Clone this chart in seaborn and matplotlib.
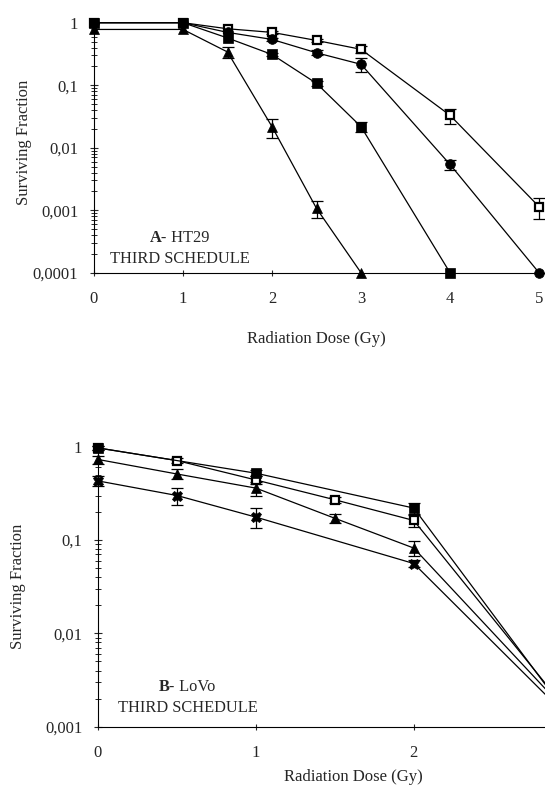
import numpy as np
import pandas as pd
import matplotlib
matplotlib.use("Agg")
import matplotlib.pyplot as plt
import matplotlib.ticker as ticker
import seaborn as sns

# ---- Panel A: HT29, third schedule ----
dose_a = [0, 1, 1.5, 2, 2.5, 3, 4, 5]
ht29_open_sq = [1.0, 1.0, 0.80, 0.70, 0.52, 0.375, 0.033, 0.00114]
ht29_open_sq_err = [0, 0, 0, 0.03, 0.03, 0.05, 0.009, 0.00043]
ht29_circle = [1.0, 1.0, 0.70, 0.54, 0.33, 0.216, 0.0054, 0.0001]
ht29_circle_err = [0, 0, 0, 0.03, 0.03, 0.055, 0.001, 0]
dose_a_sq = [0, 1, 1.5, 2, 2.5, 3, 4]
ht29_sq = [1.0, 1.0, 0.57, 0.31, 0.107, 0.0217, 0.0001]
ht29_sq_err = [0, 0, 0, 0.02, 0.01, 0.004, 0]
dose_a_tri = [0, 1, 1.5, 2, 2.5, 3]
ht29_tri = [0.78, 0.78, 0.34, 0.0217, 0.00107, 0.0001]
ht29_tri_err = [0, 0, 0.065, 0.0072, 0.00032, 0]

# ---- Panel B: LoVo, third schedule ----
dose_b_sq = [0, 1, 2, 3]
lovo_sq = [0.97, 0.52, 0.22, 0.00118]
lovo_sq_err = [0.05, 0.04, 0.03, 0]
dose_b = [0, 0.5, 1, 1.5, 2, 3]
lovo_open_sq = [0.97, 0.71, 0.44, 0.27, 0.162, 0.0013]
lovo_open_sq_err = [0.05, 0.04, 0.04, 0.02, 0.025, 0]
lovo_tri = [0.73, 0.51, 0.36, 0.171, 0.082, 0.00127]
lovo_tri_err = [0.07, 0.06, 0.06, 0.02, 0.015, 0]
dose_b_x = [0, 0.5, 1, 2, 3]
lovo_x = [0.43, 0.30, 0.176, 0.056, 0.00116]
lovo_x_err = [0.05, 0.06, 0.042, 0.005, 0]

ytick_vals_a = [0.0001, 0.001, 0.01, 0.1, 1]
ytick_labels_a = ["0,0001", "0,001", "0,01", "0,1", "1"]
ytick_vals_b = [0.001, 0.01, 0.1, 1]
ytick_labels_b = ["0,001", "0,01", "0,1", "1"]
xticks_a = [0, 1, 2, 3, 4, 5]
xticks_b = [0, 1, 2]

sns.set_style("ticks")
plt.rcParams['font.family'] = ['Liberation Serif', 'DejaVu Serif']
plt.rcParams['font.size'] = 12

fig = plt.figure(figsize=(5.45, 7.86), dpi=100, facecolor="white")
ax_a = fig.add_axes([94/545, 1 - 272.7/786, 1 - 94/545, (272.7 - 22.7)/786])
ax_b = fig.add_axes([98/545, 1 - 726.7/786, 1 - 98/545, (726.7 - 446.7)/786])


def draw(ax, x, y, err, marker, face, ms):
    df = pd.DataFrame({"dose": x, "sf": y, "err": err})
    e = df[df["err"] > 0]
    ax.errorbar(e["dose"], e["sf"], yerr=e["err"], fmt="none", ecolor="black",
                elinewidth=0.9, capsize=4, capthick=0.9, clip_on=False, zorder=2)
    sns.lineplot(data=df, x="dose", y="sf", ax=ax, color="black", linewidth=0.9,
                 marker=marker, markersize=ms, markerfacecolor=face,
                 markeredgecolor="black", markeredgewidth=1.6 if face == "white" else 0.5,
                 clip_on=False, zorder=3, errorbar=None, sort=False)


draw(ax_a, dose_a, ht29_open_sq, ht29_open_sq_err, "s", "white", 6.2)
draw(ax_a, dose_a, ht29_circle, ht29_circle_err, "o", "black", 7.0)
draw(ax_a, dose_a_sq, ht29_sq, ht29_sq_err, "s", "black", 6.8)
draw(ax_a, dose_a_tri, ht29_tri, ht29_tri_err, "^", "black", 7.8)

draw(ax_b, dose_b, lovo_open_sq, lovo_open_sq_err, "s", "white", 6.2)
draw(ax_b, dose_b_sq, lovo_sq, lovo_sq_err, "s", "black", 6.8)
draw(ax_b, dose_b, lovo_tri, lovo_tri_err, "^", "black", 7.8)
draw(ax_b, dose_b_x, lovo_x, lovo_x_err, "X", "black", 7.8)

for ax, yv, yl, xt, xmax, ymin in [(ax_a, ytick_vals_a, ytick_labels_a, xticks_a, 451/89, 0.0001),
                                   (ax_b, ytick_vals_b, ytick_labels_b, xticks_b, 447/157.9, 0.001)]:
    ax.set_yscale("log")
    ax.set_ylim(ymin, 1)
    ax.set_xlim(0, xmax)
    ax.yaxis.set_major_locator(ticker.FixedLocator(yv))
    ax.yaxis.set_major_formatter(ticker.FixedFormatter(yl))
    ax.yaxis.set_minor_locator(ticker.LogLocator(base=10, subs=np.arange(2, 10), numticks=20))
    ax.yaxis.set_minor_formatter(ticker.NullFormatter())
    ax.set_xticks(xt)
    ax.set_xticklabels([str(v) for v in xt])
    ax.tick_params(axis="y", which="major", direction="inout", length=6, width=0.8, pad=8.4, labelsize=12)
    ax.tick_params(axis="y", which="minor", direction="inout", length=4.3, width=0.7)
    ax.tick_params(axis="x", which="major", direction="inout", length=5, width=0.8, pad=11, labelsize=12)
    ax.spines["top"].set_visible(False)
    ax.spines["right"].set_visible(False)
    for s in ["left", "bottom"]:
        ax.spines[s].set_linewidth(0.8)
        ax.spines[s].set_color("black")
    ax.set_facecolor("white")
    ax.set_ylabel("Surviving Fraction", fontsize=12)
    ax.set_xlabel("Radiation Dose (Gy)", fontsize=12)

ax_a.yaxis.set_label_coords(-0.137, 0.52)
ax_a.xaxis.set_label_coords(0.492, -0.232)
ax_b.yaxis.set_label_coords(-0.16, 0.5)
ax_b.xaxis.set_label_coords(0.572, -0.152)

ax_a.text(0.162, 0.139, "A-", transform=ax_a.transAxes, ha="right", va="center",
          fontweight="bold", fontsize=11.8)
ax_a.text(0.162, 0.139, " HT29", transform=ax_a.transAxes, ha="left", va="center", fontsize=11.8)
ax_a.text(0.19, 0.055, "THIRD SCHEDULE", transform=ax_a.transAxes, ha="center", va="center", fontsize=11.8)

ax_b.text(0.172, 0.143, "B-", transform=ax_b.transAxes, ha="right", va="center",
          fontweight="bold", fontsize=11.8)
ax_b.text(0.172, 0.143, " LoVo", transform=ax_b.transAxes, ha="left", va="center", fontsize=11.8)
ax_b.text(0.2018, 0.0657, "THIRD SCHEDULE", transform=ax_b.transAxes, ha="center", va="center", fontsize=11.8)

fig.savefig("out.png", dpi=100, facecolor="white")
